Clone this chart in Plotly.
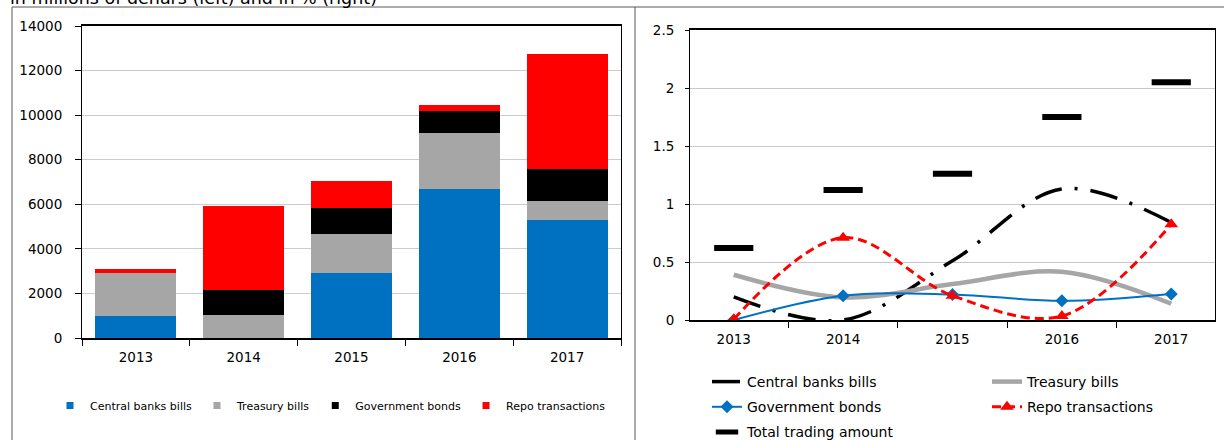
import plotly.graph_objects as go

W, H = 1224, 440

years = ["2013", "2014", "2015", "2016", "2017"]

# Left chart: trading amounts, in millions of denars (stacked)
cb_amt = [970, 0, 2900, 6700, 5290]
tb_amt = [1950, 1030, 1760, 2500, 880]
gb_amt = [0, 1130, 1180, 980, 1395]
repo_amt = [160, 3760, 1220, 290, 5165]

# Right chart: in %
cb_pct = [0.20, 0.0, 0.51, 1.13, 0.84]
tb_pct = [0.39, 0.195, 0.31, 0.415, 0.14]
gb_pct = [0.0, 0.21, 0.22, 0.165, 0.225]
repo_pct = [0.005, 0.71, 0.21, 0.035, 0.825]
total_pct = [0.62, 1.12, 1.26, 1.75, 2.05]

left_ticks = [0, 2000, 4000, 6000, 8000, 10000, 12000, 14000]
left_tick_text = ["0", "2000", "4000", "6000", "8000", "10000", "12000", "14000"]
right_ticks = [0, 0.5, 1, 1.5, 2, 2.5]
right_tick_text = ["0", "0.5", "1", "1.5", "2", "2.5"]

series_names = ["Central banks bills", "Treasury bills", "Government bonds", "Repo transactions"]
BLUE, GRAY, BLACK, RED = "#0070C0", "#A6A6A6", "#000000", "#FF0000"

FONT = "DejaVu Sans"


def px(x):
    return x / W


def py(y):
    return 1 - y / H


fig = go.Figure()

# ---- Left: stacked bars ----
for name, vals, col in zip(series_names, [cb_amt, tb_amt, gb_amt, repo_amt], [BLUE, GRAY, BLACK, RED]):
    fig.add_trace(go.Bar(
        x=years, y=vals, name=name, marker=dict(color=col, line=dict(width=0)),
        xaxis="x", yaxis="y", legend="legend", showlegend=False,
    ))
# legend entries with small square symbols
for name, col in zip(series_names, [BLUE, GRAY, BLACK, RED]):
    fig.add_trace(go.Scatter(
        x=[None], y=[None], mode="markers", name=name,
        marker=dict(symbol="square", size=7, color=col),
        xaxis="x", yaxis="y", legend="legend", showlegend=True,
    ))

# ---- Right: lines ----
fig.add_trace(go.Scatter(
    x=years, y=cb_pct, name="Central banks bills", mode="lines",
    line=dict(color=BLACK, width=3.5, dash="28px,13px,3px,13px", shape="spline", smoothing=1),
    xaxis="x2", yaxis="y2", legend="legend2", legendgroup="a",
))
fig.add_trace(go.Scatter(
    x=years, y=tb_pct, name="Treasury bills", mode="lines",
    line=dict(color=GRAY, width=4.5, shape="spline", smoothing=1),
    xaxis="x2", yaxis="y2", legend="legend3", legendgroup="b",
))
fig.add_trace(go.Scatter(
    x=years, y=gb_pct, name="Government bonds", mode="lines+markers",
    line=dict(color=BLUE, width=2, shape="spline", smoothing=1),
    marker=dict(symbol="diamond", size=10, color=BLUE),
    xaxis="x2", yaxis="y2", legend="legend2", legendgroup="c",
))
fig.add_trace(go.Scatter(
    x=years, y=repo_pct, name="Repo transactions", mode="lines+markers",
    line=dict(color=RED, width=3, dash="9px,5px", shape="spline", smoothing=1),
    marker=dict(symbol="triangle-up", size=12, color=RED),
    xaxis="x2", yaxis="y2", legend="legend3", legendgroup="d",
))
fig.add_trace(go.Scatter(
    x=years, y=total_pct, name="Total trading amount", mode="markers",
    marker=dict(symbol="line-ew", size=28, color=BLACK, line=dict(width=6, color=BLACK)),
    xaxis="x2", yaxis="y2", legend="legend2", legendgroup="e",
))

tickfont = dict(family=FONT, size=13.5, color="#000000")

fig.update_layout(
    width=W, height=H,
    margin=dict(l=0, r=0, t=0, b=0, autoexpand=False),
    paper_bgcolor="white", plot_bgcolor="white",
    barmode="stack", bargap=0.25,
    font=dict(family=FONT, color="#000000"),
    xaxis=dict(
        domain=[px(82), px(621)], anchor="y", type="category", automargin=False,
        showline=True, linecolor="#000000", linewidth=1.5, mirror=True,
        ticks="outside", ticklen=6, tickcolor="#000000", tickson="boundaries",
        tickfont=tickfont, ticklabelstandoff=6, showgrid=False,
    ),
    yaxis=dict(
        domain=[py(338), py(26)], anchor="x", range=[0, 14000], automargin=False,
        tickvals=left_ticks, ticktext=left_tick_text,
        showline=True, linecolor="#000000", linewidth=1, mirror=True,
        ticks="outside", ticklen=6, tickcolor="#000000",
        showgrid=True, gridcolor="#CCCCCC", gridwidth=1,
        tickfont=tickfont, ticklabelstandoff=10, zeroline=False,
    ),
    xaxis2=dict(
        domain=[px(690), px(1215)], anchor="y2", type="category", automargin=False,
        showline=True, linecolor="#000000", linewidth=1.5, mirror=True,
        ticks="outside", ticklen=6, tickcolor="#000000", tickson="boundaries",
        tickfont=tickfont, ticklabelstandoff=6, showgrid=False,
    ),
    yaxis2=dict(
        domain=[py(320), py(30)], anchor="x2", range=[0, 2.5], automargin=False,
        tickvals=right_ticks, ticktext=right_tick_text,
        showline=True, linecolor="#000000", linewidth=1, mirror=True,
        ticks="outside", ticklen=4, tickcolor="#000000",
        showgrid=True, gridcolor="#C8C8C8", gridwidth=1,
        tickfont=tickfont, ticklabelstandoff=8, zeroline=False,
    ),
    legend=dict(
        orientation="h", traceorder="normal", x=px(50), y=py(391), xanchor="left", yanchor="top",
        font=dict(family=FONT, size=11, color="#000000"), bgcolor="rgba(0,0,0,0)",
        itemclick=False, itemdoubleclick=False,
    ),
    legend2=dict(
        orientation="v", x=px(707), y=py(366), xanchor="left", yanchor="top",
        font=dict(family=FONT, size=14, color="#000000"), bgcolor="rgba(0,0,0,0)",
        tracegroupgap=4, itemclick=False, itemdoubleclick=False,
    ),
    legend3=dict(
        orientation="v", x=px(987), y=py(366), xanchor="left", yanchor="top",
        font=dict(family=FONT, size=14, color="#000000"), bgcolor="rgba(0,0,0,0)",
        tracegroupgap=4, itemclick=False, itemdoubleclick=False,
    ),
    annotations=[dict(
        text="in millions of denars (left) and in % (right)",
        xref="paper", yref="paper", x=px(8), y=py(10), xanchor="left", yanchor="bottom",
        showarrow=False, font=dict(family=FONT, size=17.5, color="#000000"),
    )],
    shapes=[
        dict(type="line", xref="paper", yref="paper", x0=px(12), x1=1, y0=py(7), y1=py(7),
             line=dict(color="#595959", width=1)),
        dict(type="line", xref="paper", yref="paper", x0=px(12), x1=px(12), y0=py(7), y1=0,
             line=dict(color="#595959", width=1)),
        dict(type="line", xref="paper", yref="paper", x0=px(635), x1=px(635), y0=py(7), y1=0,
             line=dict(color="#595959", width=1)),
    ],
)

# remove the browser's default 8px page margin so the figure fills the window
fig.write_html(
    "out.html",
    config={"displayModeBar": False},
    post_script="document.body.style.margin='0';",
)
